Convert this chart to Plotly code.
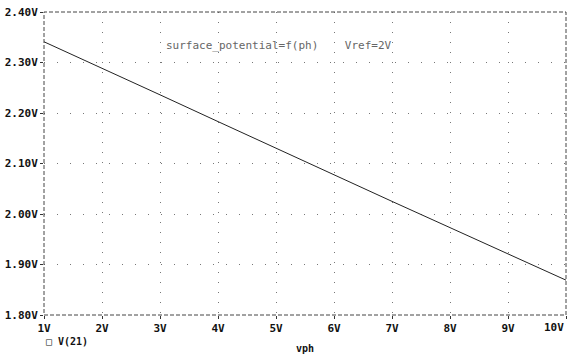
import plotly.graph_objects as go

vph = [1, 2, 3, 4, 5, 6, 7, 8, 9, 10]
v21 = [2.341, 2.289, 2.236, 2.183, 2.130, 2.077, 2.025, 1.973, 1.921, 1.869]

x_ticks = [1, 2, 3, 4, 5, 6, 7, 8, 9, 10]
x_labels = ["1V", "2V", "3V", "4V", "5V", "6V", "7V", "8V", "9V", "10V"]
y_ticks = [1.8, 1.9, 2.0, 2.1, 2.2, 2.3, 2.4]
y_labels = ["1.80V", "1.90V", "2.00V", "2.10V", "2.20V", "2.30V", "2.40V"]

tickfont = dict(family="DejaVu Sans Mono", size=11, color="#111", weight="bold")

# last x label is drawn as an annotation, right-aligned at the plot edge
x_text = x_labels[:-1] + [""]

fig = go.Figure()
fig.add_trace(go.Scatter(x=vph, y=v21, mode="lines",
                         line=dict(color="#222", width=1), showlegend=False))

fig.update_layout(
    width=571, height=356,
    margin=dict(l=44, r=5, t=12, b=41),
    paper_bgcolor="white", plot_bgcolor="white",
    xaxis=dict(range=[1, 10], tickvals=x_ticks, ticktext=x_text,
               showgrid=True, gridcolor="#777", gridwidth=1, griddash="1px,9px",
               zeroline=False, showline=False, ticks="outside", ticklen=3,
               tickcolor="#333", tickfont=tickfont,
               title=dict(text="vph", font=dict(family="DejaVu Sans Mono", size=10, color="#111", weight="bold"), standoff=10)),
    yaxis=dict(range=[1.8, 2.4], tickvals=y_ticks, ticktext=y_labels,
               showgrid=True, gridcolor="#777", gridwidth=1, griddash="1px,12px",
               zeroline=False, showline=False, ticks="outside", ticklen=3,
               tickcolor="#333", tickfont=tickfont),
    shapes=[dict(type="rect", xref="paper", yref="paper", x0=0, y0=0, x1=1, y1=1,
                 line=dict(color="#444", width=1, dash="4px,2px"))],
    annotations=[
        dict(text="surface_potential=f(ph)    Vref=2V", xref="paper", yref="paper",
             x=0.23, y=0.891, xanchor="left", yanchor="middle", showarrow=False,
             font=dict(family="DejaVu Sans Mono", size=11, color="#666")),
        dict(text="□ V(21)", xref="paper", yref="paper", x=0.0, y=-0.087,
             xanchor="left", yanchor="middle", showarrow=False,
             font=dict(family="DejaVu Sans Mono", size=10, color="#111", weight="bold")),
        dict(text=x_labels[-1], xref="x", yref="paper", x=x_ticks[-1], y=0,
             xanchor="right", yanchor="top", yshift=-4, showarrow=False,
             font=tickfont),
    ],
)
fig.write_html("out.html")
